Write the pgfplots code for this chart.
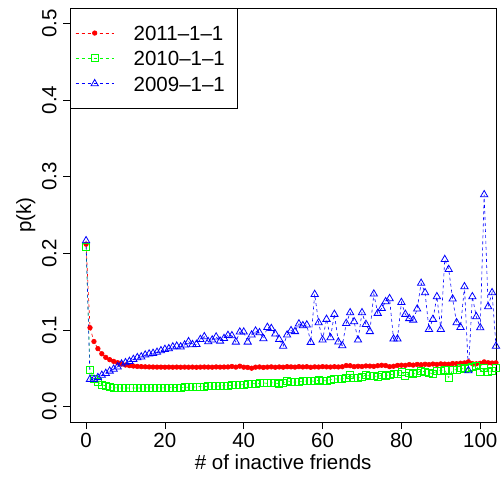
\documentclass[border=0pt]{standalone}
\usepackage{pgfplots}
\usepackage{pgfplotstable}
\pgfplotsset{compat=1.18}
\usepackage{fontspec}
\setmainfont{Liberation Sans}
\newcommand{\bigf}{\fontsize{20.5}{24}\selectfont}
\definecolor{rred}{HTML}{FF0000}
\definecolor{rgreen}{HTML}{00FF00}
\definecolor{rblue}{HTML}{0000FF}

\pgfplotstableread{
x r g b
0 0.212 0.2086 0.2165
1 0.103 0.0478 0.0357
2 0.085 0.0360 0.0357
3 0.0757 0.0320 0.038
4 0.069 0.0287 0.041
5 0.0643 0.0270 0.0435
6 0.0613 0.0252 0.0465
7 0.0591 0.0245 0.049
8 0.0574 0.0244 0.052
9 0.0557 0.0243 0.0557
10 0.0543 0.0244 0.0574
11 0.0535 0.0243 0.0591
12 0.0530 0.0244 0.0617
13 0.0525 0.0243 0.064
14 0.0522 0.0244 0.065
15 0.0520 0.0244 0.0674
16 0.0518 0.0245 0.0687
17 0.0517 0.0244 0.0696
18 0.0516 0.0245 0.071
19 0.0516 0.0246 0.073
20 0.0515 0.0246 0.0748
21 0.0516 0.0248 0.0757
22 0.0515 0.0249 0.078
23 0.0516 0.0250 0.079
24 0.0515 0.0251 0.078
25 0.0516 0.0253 0.0805
26 0.0515 0.0253 0.0848
27 0.0516 0.0256 0.081
28 0.0514 0.0258 0.0813
29 0.0516 0.0264 0.0878
30 0.0517 0.0262 0.0913
31 0.0516 0.0266 0.0848
32 0.0515 0.0268 0.087
33 0.0518 0.0267 0.091
34 0.0516 0.0271 0.0856
35 0.0517 0.0275 0.089
36 0.0518 0.0272 0.093
37 0.0524 0.0279 0.0926
38 0.0516 0.0283 0.0843
39 0.0528 0.0281 0.0974
40 0.0515 0.0290 0.0974
41 0.0512 0.0296 0.0843
42 0.0502 0.0302 0.0935
43 0.0515 0.0298 0.0987
44 0.0518 0.0305 0.0965
45 0.0512 0.0310 0.0887
46 0.0516 0.0304 0.1035
47 0.0519 0.0312 0.102
48 0.0514 0.0306 0.0948
49 0.0518 0.0300 0.0878
50 0.0515 0.0310 0.079
51 0.0521 0.0336 0.0935
52 0.0519 0.0325 0.0992
53 0.0516 0.0318 0.098
54 0.0522 0.0328 0.108
55 0.0518 0.0331 0.1057
56 0.0521 0.0335 0.1066
57 0.0514 0.0338 0.084
58 0.0519 0.0330 0.1465
59 0.0517 0.0345 0.1096
60 0.0522 0.0342 0.087
61 0.0519 0.0336 0.114
62 0.0517 0.0352 0.090
63 0.0521 0.0364 0.1205
64 0.0518 0.0358 0.0844
65 0.0521 0.0362 0.0796
66 0.0536 0.0374 0.1087
67 0.0534 0.0410 0.1226
68 0.0522 0.0372 0.1109
69 0.0527 0.0378 0.087
70 0.0524 0.0385 0.1226
71 0.0531 0.0420 0.1074
72 0.0529 0.0395 0.098
73 0.0526 0.0400 0.147
74 0.0534 0.0392 0.1218
75 0.0540 0.0410 0.1283
76 0.0536 0.0405 0.137
77 0.0522 0.0418 0.141
78 0.0527 0.0422 0.0883
79 0.0538 0.0428 0.0883
80 0.0541 0.0455 0.136
81 0.0539 0.0405 0.1205
82 0.0549 0.0437 0.115
83 0.0542 0.0425 0.113
84 0.0551 0.0440 0.1274
85 0.0547 0.0470 0.161
86 0.0553 0.0452 0.1487
87 0.0549 0.0445 0.1009
88 0.0556 0.0425 0.114
89 0.0551 0.0468 0.1435
90 0.0558 0.0472 0.1009
91 0.0555 0.0478 0.192
92 0.0553 0.0380 0.179
93 0.0563 0.0475 0.1405
94 0.0561 0.0485 0.1096
95 0.0567 0.0500 0.1035
96 0.0571 0.0490 0.1565
97 0.0585 0.0505 0.047
98 0.0562 0.0520 0.1435
99 0.0559 0.0535 0.1174
100 0.0566 0.0455 0.103
101 0.0584 0.0505 0.2765
102 0.0573 0.0460 0.1305
103 0.0569 0.0465 0.1487
104 0.0572 0.0500 0.079
}\datatab

\begin{document}
\begin{tikzpicture}
\useasboundingbox (-70.3pt,-55pt) rectangle (430.7pt,422pt);
\begin{axis}[
  at={(0pt,0pt)}, anchor=south west,
  width=425.7pt, height=414pt, scale only axis,
  xmin=-4, xmax=104, ymin=-0.02, ymax=0.52,
  xtick={0,20,40,60,80,100},
  ytick={0,0.1,0.2,0.3,0.4,0.5},
  tick align=outside, tick pos=left, major tick length=7pt,
  every tick/.style={black, line width=0.8pt},
  axis line style={line width=0.8pt},
  /pgf/number format/assume math mode=true,
  tick label style={font=\bigf},
  xticklabel style={anchor=north, inner sep=0pt},
  xticklabel shift=4.3pt,
  yticklabel style={rotate=90, anchor=south, inner sep=0pt,
    /pgf/number format/fixed, /pgf/number format/fixed zerofill,
    /pgf/number format/precision=1},
  yticklabel shift=6.6pt,
  scaled y ticks=false,
  xlabel={\# of inactive friends},
  ylabel={p(k)},
  label style={font=\bigf},
  xlabel style={at={(axis description cs:0.5,-0.1159)}, anchor=base, inner sep=0pt},
  ylabel style={at={(axis description cs:-0.0923,0.5)}, anchor=base, inner sep=0pt},
  legend style={at={(0,1)}, anchor=north west, draw=black, line width=0.8pt,
    fill=white, inner xsep=4.7pt, inner ysep=15.6pt, row sep=7.2pt,
    column sep=19.7pt, font=\bigf,
    nodes={inner sep=0pt, text height=16.4pt, text depth=1.7pt,
      text width=98.6pt, align=left},
    cells={anchor=west}},
  legend cell align=left,
]
\addplot[color=rred, draw=rred, line width=0.6pt, dash pattern=on 3pt off 3pt,
  mark=*, mark size=2.3pt, mark options={solid, fill=rred, draw=rred},
  legend image code/.code={
    \draw[draw=rred, line width=0.6pt, dash pattern=on 3pt off 3pt] (0pt,0pt) -- (38pt,0pt);
    \draw[draw=rred, mark=*, mark size=2.3pt, mark options={solid, fill=rred, draw=rred},
      mark repeat=2, mark phase=2] plot coordinates {(0pt,0pt) (19pt,0pt) (38pt,0pt)};}]
  table[x=x, y=r] {\datatab};
\addlegendentry{2011–1–1}
\addplot[color=rgreen, draw=rgreen, line width=0.6pt, dash pattern=on 3pt off 3pt,
  mark=square, mark size=3.5pt, mark options={solid, draw=rgreen, line width=0.8pt},
  legend image code/.code={
    \draw[draw=rgreen, line width=0.6pt, dash pattern=on 3pt off 3pt] (0pt,0pt) -- (38pt,0pt);
    \draw[draw=none, mark=square, mark size=3.5pt, mark options={solid, draw=rgreen, fill=white, line width=0.8pt},
      mark repeat=2, mark phase=2] plot coordinates {(0pt,0pt) (19pt,0pt) (38pt,0pt)};}]
  table[x=x, y=g] {\datatab};
\addlegendentry{2010–1–1}
\addplot[color=rblue, draw=rblue, line width=0.6pt, dash pattern=on 3pt off 3pt,
  mark=triangle, mark size=4.2pt, mark options={solid, draw=rblue, line width=0.8pt},
  legend image code/.code={
    \draw[draw=rblue, line width=0.6pt, dash pattern=on 3pt off 3pt] (0pt,0pt) -- (38pt,0pt);
    \draw[draw=none, mark=triangle, mark size=4.2pt, mark options={solid, draw=rblue, fill=white, line width=0.8pt},
      mark repeat=2, mark phase=2] plot coordinates {(0pt,0pt) (19pt,0pt) (38pt,0pt)};}]
  table[x=x, y=b] {\datatab};
\addlegendentry{2009–1–1}
\end{axis}
\end{tikzpicture}
\end{document}
